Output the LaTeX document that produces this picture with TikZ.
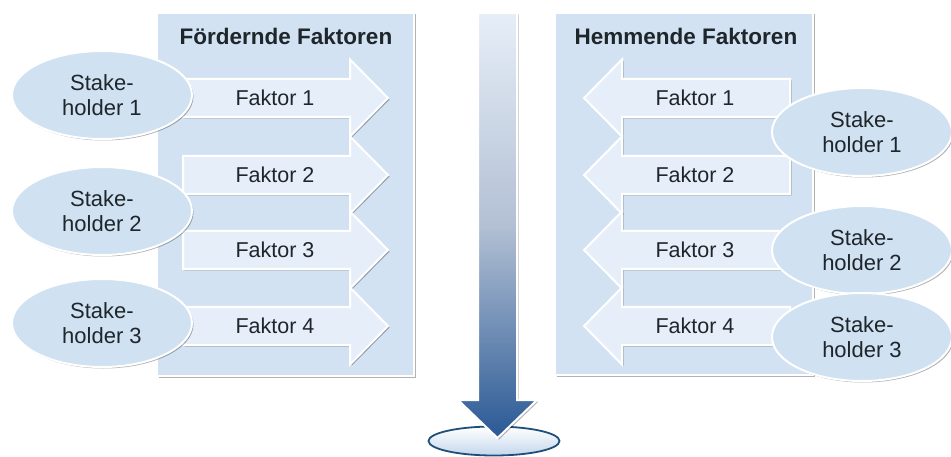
\documentclass[tikz,border=0pt]{standalone}
\usepackage{fontspec}
\setmainfont{Liberation Sans}
\usetikzlibrary{shadows,shapes.geometric}
\definecolor{panelblue}{HTML}{D2E2F3}
\definecolor{arrowfill}{HTML}{E6EFF9}
\definecolor{ellfill}{HTML}{D0E1F2}
\definecolor{txt}{HTML}{1F262B}
\definecolor{shafttop}{HTML}{E6EEF8}
\definecolor{shaftmid}{HTML}{B3C0D4}
\definecolor{shaftbot}{HTML}{2A5995}
\definecolor{goalborder}{HTML}{1F4E79}
\definecolor{goalbot}{HTML}{C4D7EC}
\begin{document}
\begin{tikzpicture}[x=1pt,y=-1pt,
  shd/.style={drop shadow={shadow xshift=1.5pt,shadow yshift=-1.5pt,opacity=0.3,fill=black}},
  panel/.style={fill=panelblue,draw=white,line width=2pt,shd},
  farrow/.style={fill=arrowfill,draw=white,line width=2pt,shd},
  stake/.style={ellipse,fill=ellfill,draw=white,line width=2pt,shd,minimum width=180pt,minimum height=88pt,inner sep=0pt,align=center,text=txt,font=\fontsize{22}{25.5}\selectfont},
  lbl/.style={text=txt,font=\fontsize{21.5}{25}\selectfont,inner sep=0pt},
  ttl/.style={text=txt,font=\bfseries\fontsize{22.5}{26}\selectfont,inner sep=0pt}]
\useasboundingbox (0,0) rectangle (951,457);
% panels
\draw[panel] (157,13) rectangle (414,376);
\draw[panel] (555,13) rectangle (813,375);
\node[ttl] (t1) at (286,36) {Fördernde Faktoren};
\node[ttl] (t2) at (686,36) {Hemmende Faktoren};
% left arrows
\foreach \c/\n in {98/1,175/2,250/3,326/4}{
  \draw[farrow] (183,\c-19) -- (350,\c-19) -- (350,\c-38.5) -- (388,\c) -- (350,\c+38.5) -- (350,\c+19) -- (183,\c+19) -- cycle;
  \node[lbl] (lf\n) at (275,\c) {Faktor \n};
}
% right arrows
\foreach \c/\n in {98/1,175/2,250/3,326/4}{
  \draw[farrow] (790,\c-19) -- (622,\c-19) -- (622,\c-38.5) -- (584,\c) -- (622,\c+38.5) -- (622,\c+19) -- (790,\c+19) -- cycle;
  \node[lbl] (rf\n) at (695,\c) {Faktor \n};
}
% stakeholders left
\node[stake] (ls1) at (102,95) {Stake-\\holder 1};
\node[stake] (ls2) at (102,211) {Stake-\\holder 2};
\node[stake] (ls3) at (102,323) {Stake-\\holder 3};
% stakeholders right
\node[stake] (rs1) at (862,132) {Stake-\\holder 1};
\node[stake] (rs2) at (862,250) {Stake-\\holder 2};
\node[stake] (rs3) at (862,337) {Stake-\\holder 3};
% goal ellipse
\node[ellipse,draw=goalborder,line width=1.8pt,top color=white,bottom color=goalbot,minimum width=131pt,minimum height=29pt,inner sep=0pt] (goal) at (494,441) {};
% central arrow
\draw[shd,draw=white,line width=2pt,top color=shafttop,bottom color=shaftbot,middle color=shaftmid]
  (478,13) -- (517,13) -- (517,400) -- (537,400) -- (497.5,438) -- (458,400) -- (478,400) -- cycle;
\end{tikzpicture}
\end{document}
